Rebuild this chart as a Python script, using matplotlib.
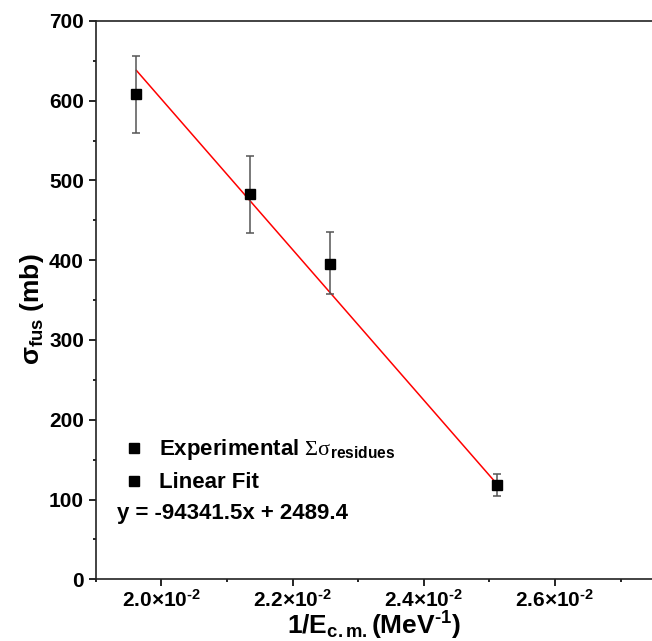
import matplotlib.pyplot as plt
from matplotlib.lines import Line2D
from matplotlib.ticker import MultipleLocator, FuncFormatter

plt.rcParams['font.family'] = ['Liberation Sans', 'DejaVu Sans']
plt.rcParams['mathtext.fontset'] = 'custom'
plt.rcParams['mathtext.rm'] = 'Liberation Sans:bold'
plt.rcParams['mathtext.it'] = 'Liberation Sans:bold'
plt.rcParams['mathtext.bf'] = 'Liberation Sans:bold'
plt.rcParams['mathtext.sf'] = 'Liberation Serif'

HY = '\u2010'  # short hyphen used in the exponents

# data
inv_e = [0.01962, 0.02135, 0.02257, 0.02511]
sigma = [608, 483, 395, 118]
err_lo = [49, 49, 37, 14]
err_hi = [48, 48, 40, 14]

# fit line end points
fit_x = [0.01962, 0.02511]
fit_y = [638, 120]

fig = plt.figure(figsize=(6.52, 6.41), dpi=100)
ax = fig.add_axes([0.1468, 0.0963, 0.8532, 0.871])

ax.plot(fit_x, fit_y, color='red', lw=1.1, zorder=2)
ax.errorbar(inv_e, sigma, yerr=[err_lo, err_hi], fmt='s', color='black',
            ms=6.5, ecolor='#555555', elinewidth=1.1, capsize=3.2, capthick=1.1,
            zorder=3)

ax.set_xlim(0.019, 0.02748)
ax.set_ylim(0, 700)
ax.yaxis.set_major_locator(MultipleLocator(100))
ax.yaxis.set_minor_locator(MultipleLocator(50))
ax.xaxis.set_major_locator(MultipleLocator(0.002))
ax.xaxis.set_minor_locator(MultipleLocator(0.001))
ax.xaxis.set_major_formatter(FuncFormatter(
    lambda v, p: r'$\mathbf{%.1f{\times}10^{%s2}}$' % (v * 100, HY)))

ax.spines['right'].set_visible(False)
for s in ['left', 'bottom', 'top']:
    ax.spines[s].set_linewidth(1.2)
    ax.spines[s].set_color('#222222')
ax.tick_params(which='major', direction='out', length=5, width=1.2)
ax.tick_params(which='minor', direction='out', length=2.5, width=1.2)
ax.tick_params(axis='both', labelsize=15)
ax.tick_params(axis='x', pad=2)
ax.tick_params(top=False, right=False, which='both')
for lb in ax.get_yticklabels():
    lb.set_fontweight('bold')

ax.set_xlabel(r'1/E$_{\mathbf{c.m.}}$(MeV$^{\mathbf{%s1}}$)' % HY, fontsize=19,
              fontweight='bold', va='top')
ax.xaxis.set_label_coords(0.5, -0.055)
ax.set_ylabel(r'$\sigma_{\mathbf{fus}}$ (mb)', fontsize=19, fontweight='bold')
ax.yaxis.set_label_coords(-0.09, 0.484)

handles = [Line2D([], [], marker='s', color='black', ls='none', ms=6.5),
           Line2D([], [], marker='s', color='black', ls='none', ms=6.5)]
labels = [r'Experimental $\mathsf{\Sigma\sigma}_{\mathbf{residues}}$', 'Linear Fit']
ax.legend(handles, labels, loc='center left', bbox_to_anchor=(0.033, 0.204),
          frameon=False, prop={'size': 16, 'weight': 'bold'},
          handlelength=1.0, handletextpad=0.6, labelspacing=0.45,
          borderaxespad=0)
ax.text(0.039, 0.118, 'y = -94341.5x + 2489.4', transform=ax.transAxes,
        fontsize=16, fontweight='bold', va='center')

fig.savefig('out.png', dpi=100)
